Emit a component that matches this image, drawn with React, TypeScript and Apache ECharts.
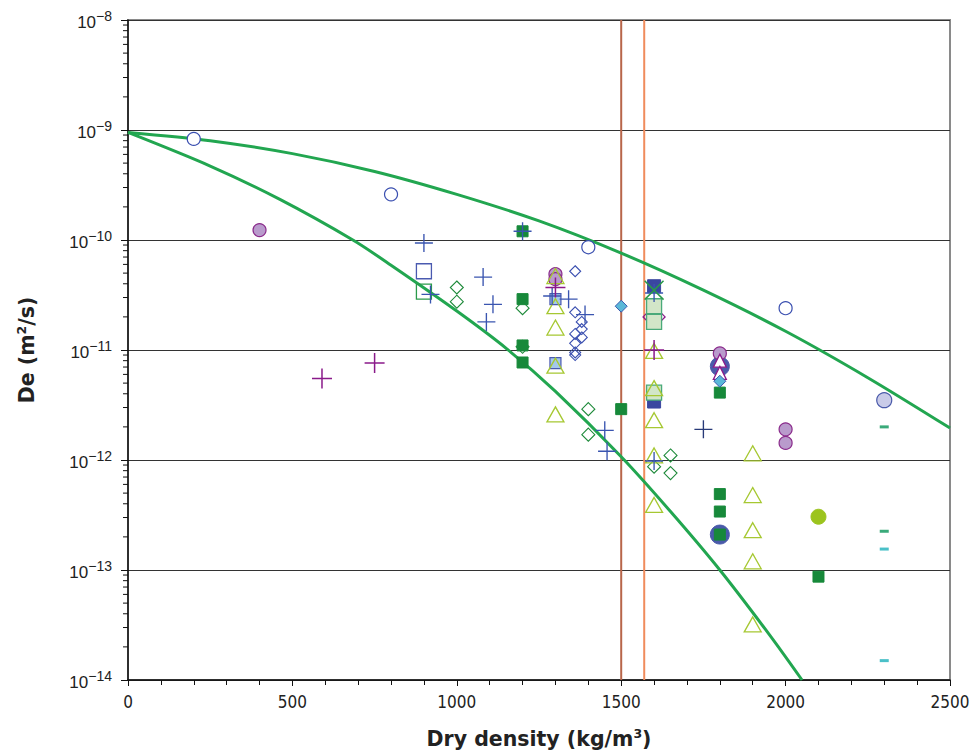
import React, { useEffect, useRef } from "react";
import * as echarts from "echarts";

// ---- data ----
const xTicks = [0, 500, 1000, 1500, 2000, 2500];
const yDecades = [-14, -13, -12, -11, -10, -9];
const minorMultipliers = [2, 3, 4, 5, 6, 7, 8, 9];

const upperCurve = [
  [0, 9.5e-10], [250, 8.0e-10], [500, 6.1e-10], [750, 4.2e-10], [1000, 2.6e-10],
  [1250, 1.49e-10], [1500, 7.6e-11], [1750, 3.5e-11], [2000, 1.48e-11], [2250, 5.6e-12], [2500, 1.95e-12],
];
const lowerCurve = [
  [0, 9.5e-10], [250, 4.7e-10], [462, 2.34e-10], [684, 1.0e-10], [800, 5.9e-11], [1000, 2.26e-11],
  [1153, 1.02e-11], [1300, 4.2e-12], [1500, 1.07e-12], [1650, 3.4e-13], [1800, 1.0e-13], [1950, 2.6e-14], [2050, 1.0e-14],
];
const limitLine1 = [[1500, 1e-14], [1500, 1e-8]];
const limitLine2 = [[1570, 1e-14], [1570, 1e-8]];

const openCircles = [[200, 8.3e-10], [800, 2.6e-10], [1400, 8.6e-11], [2000, 2.4e-11]];
const purpleCircles = [[400, 1.23e-10], [1300, 4.9e-11], [1300, 4.4e-11], [1800, 9.3e-12], [2000, 1.9e-12], [2000, 1.43e-12]];
const bigBlueCircles = [[1800, 7.1e-12], [1800, 2.1e-13]];
const lavenderCircles = [[2300, 3.5e-12]];
const limeCircles = [[2100, 3.05e-13]];
const bluePlus = [
  [900, 9.4e-11], [920, 3.2e-11], [1080, 4.6e-11], [1110, 2.6e-11], [1090, 1.8e-11], [1200, 1.2e-10],
  [1290, 3.1e-11], [1340, 2.9e-11], [1390, 2.1e-11], [1450, 1.86e-12], [1457, 1.2e-12], [1600, 9.8e-13], [1600, 3.3e-11],
];
const navyPlus = [[1750, 1.9e-12]];
const magentaPlus = [[590, 5.5e-12], [750, 7.6e-12], [1300, 3.7e-11], [1600, 1.0e-11]];
const blueOpenSquares = [[900, 5.2e-11]];
const greenOpenSquares = [[900, 3.4e-11]];
const greenDiamonds = [
  [1000, 3.7e-11], [1000, 2.75e-11], [1200, 2.4e-11], [1200, 1.07e-11], [1400, 2.9e-12], [1400, 1.7e-12],
  [1650, 1.1e-12], [1600, 8.7e-13], [1650, 7.6e-13],
];
const blueDiamonds = [
  [1360, 5.2e-11], [1360, 2.2e-11], [1380, 1.8e-11], [1380, 1.55e-11], [1360, 1.4e-11], [1380, 1.3e-11],
  [1360, 1.15e-11], [1360, 9.5e-12], [1360, 9.0e-12],
];
const cyanDiamonds = [[1500, 2.5e-11], [1800, 5.2e-12]];
const magentaDiamonds = [[1600, 2.0e-11]];
const greenSquares = [
  [1200, 1.2e-10], [1200, 2.9e-11], [1200, 1.1e-11], [1200, 7.7e-12], [1500, 2.9e-12], [1800, 4.1e-12],
  [1800, 4.9e-13], [1800, 3.4e-13], [1800, 2.1e-13], [2100, 8.7e-14],
];
const navySquares = [[1600, 3.8e-11], [1600, 3.4e-12]];
const lightBlueSquares = [[1300, 2.9e-11], [1300, 7.6e-12]];
const lightGreenSquares = [[1600, 2.5e-11], [1600, 1.8e-11], [1600, 4.1e-12]];
const greenCrosses = [[1600, 3.5e-11]];
const limeTriangles = [
  [1300, 4.7e-11], [1300, 2.5e-11], [1300, 1.6e-11], [1300, 7.2e-12], [1300, 2.6e-12],
  [1600, 9.8e-12], [1600, 4.5e-12], [1600, 2.3e-12], [1600, 1.1e-12], [1600, 3.9e-13],
  [1900, 1.15e-12], [1900, 4.8e-13], [1900, 2.3e-13], [1900, 1.2e-13], [1900, 3.2e-14],
];
const magentaTriangles = [[1800, 8.0e-12], [1800, 6.2e-12]];
const tealDashes = [[2300, 2.0e-12], [2300, 2.25e-13]];
const cyanDashes = [[2300, 1.55e-13], [2300, 1.5e-14]];

const PLUS = "path://M9.25,0h1.5v9.25h9.25v1.5h-9.25v9.25h-1.5v-9.25h-9.25v-1.5h9.25z";
const CROSS = "path://M0,1.1L1.1,0L10,8.9L18.9,0L20,1.1L11.1,10L20,18.9L18.9,20L10,11.1L1.1,20L0,18.9L8.9,10Z";

const NARROW = "'Liberation Sans Narrow', 'DejaVu Sans Condensed', 'Liberation Sans', Arial, sans-serif";
const SANS = "'Liberation Sans', Arial, sans-serif";
const BOLD_FONT = "'DejaVu Sans', 'Liberation Sans', Arial, sans-serif";

function scatter(name: string, data: number[][], symbol: string, size: any, color: string, border: string, bw: number, z = 3) {
  return {
    name, type: "scatter", data, symbol, symbolSize: size, z,
    itemStyle: { color, borderColor: border, borderWidth: bw, opacity: 1 },
  };
}

const titleStyle = {
  fontFamily: BOLD_FONT, fontWeight: "bold", fontSize: 20.5, color: "#222",
  rich: { sup: { fontFamily: BOLD_FONT, fontWeight: "bold", fontSize: 12.5, color: "#222", verticalAlign: "top", padding: [0, 0, 10, 0] } },
};

export default function App() {
  const ref = useRef<HTMLDivElement>(null);
  useEffect(() => {
    document.body.style.margin = "0";
    const chart = echarts.init(ref.current!, null, { renderer: "svg" });
    const minorTicks: number[][] = [];
    yDecades.forEach((d) => minorMultipliers.forEach((m) => minorTicks.push([0, m * Math.pow(10, d)])));

    chart.setOption({
      animation: false,
      backgroundColor: "#fff",
      grid: { left: 128, top: 20, width: 822, height: 663, show: true, borderColor: "#8a8a8a", borderWidth: 2, backgroundColor: "transparent" },
      xAxis: {
        type: "value", min: 0, max: 2500, interval: 500,
        name: "Dry density (kg/m{sup|3})", nameLocation: "middle", nameGap: 47,
        nameTextStyle: titleStyle,
        axisLine: { lineStyle: { color: "#111", width: 1.5 } },
        axisTick: { show: true, length: 6, inside: false, lineStyle: { color: "#111" } },
        minorTick: { show: true, splitNumber: 5, length: 5, lineStyle: { color: "#111" } },
        splitLine: { show: false },
        axisLabel: { fontFamily: NARROW, fontSize: 17, color: "#222", margin: 13,
          formatter: (v: number) => (xTicks.includes(v) ? String(v) : "") },
      },
      yAxis: {
        type: "log", logBase: 10, min: 1e-14, max: 1e-8,
        name: "De (m{sup|2}/s)", nameLocation: "middle", nameGap: 90, nameRotate: 90,
        nameTextStyle: titleStyle,
        axisLine: { show: true, lineStyle: { color: "#111", width: 1.5 } },
        axisTick: { show: true, length: 7, inside: false, lineStyle: { color: "#111" } },
        splitLine: { show: true, lineStyle: { color: "#333", width: 1 } },
        axisLabel: {
          margin: 16,
          formatter: (v: number) => `{b|10}{s|\u2212${-Math.round(Math.log10(v))}}`,
          rich: {
            b: { fontFamily: SANS, fontSize: 17, color: "#222", lineHeight: 22, padding: [4, 0, 0, 0] },
            s: { fontFamily: SANS, fontSize: 14, color: "#222", verticalAlign: "top", padding: [0, 0, 6, 0], lineHeight: 22 },
          },
        },
      },
      series: [
        {
          type: "custom", name: "minor", data: minorTicks, z: 10, silent: true, clip: false,
          encode: { x: 0, y: 1 },
          renderItem: (_p: any, api: any) => {
            const pt = api.coord([0, api.value(1)]);
            return { type: "line", shape: { x1: pt[0] - 5, y1: pt[1], x2: pt[0], y2: pt[1] }, style: { stroke: "#111", lineWidth: 1 } };
          },
        },
        { type: "line", data: limitLine1, showSymbol: false, lineStyle: { color: "#b8664a", width: 2 }, z: 2, silent: true },
        { type: "line", data: limitLine2, showSymbol: false, lineStyle: { color: "#f08c5c", width: 2 }, z: 2, silent: true },
        { type: "line", data: upperCurve, smooth: 0.3, showSymbol: false, lineStyle: { color: "#22a650", width: 3 }, z: 2, silent: true },
        { type: "line", data: lowerCurve, smooth: 0.3, showSymbol: false, lineStyle: { color: "#22a650", width: 3 }, z: 2, silent: true },
        scatter("openCircles", openCircles, "circle", 13, "#ffffff", "#3a4fb0", 1.2),
        scatter("bigBlueCircles", bigBlueCircles, "circle", 19, "#4a5aaa", "#4a5aaa", 1, 3),
        scatter("purpleCircles", purpleCircles, "circle", 13, "#b99bcc", "#8b2c8c", 1.2, 4),
        scatter("lavenderCircles", lavenderCircles, "circle", 15, "#c9cbe8", "#4a5aaa", 1.2),
        scatter("limeCircles", limeCircles, "circle", 15, "#9cc41e", "#9cc41e", 1),
        scatter("blueOpenSquares", blueOpenSquares, "rect", 15, "transparent", "#4a5ab0", 1.3),
        scatter("greenOpenSquares", greenOpenSquares, "rect", 15, "transparent", "#2a9a4a", 1.3),
        scatter("greenDiamonds", greenDiamonds, "diamond", 13, "transparent", "#1e8a3a", 1.1),
        scatter("blueDiamonds", blueDiamonds, "diamond", 11, "transparent", "#3a4fb0", 1.1),
        scatter("magentaDiamonds", magentaDiamonds, "diamond", 22, "transparent", "#8a1a8a", 1.3),
        scatter("greenSquares", greenSquares, "rect", 11, "#17893a", "#17893a", 1, 5),
        scatter("navySquares", navySquares, "rect", 13, "#3a47a0", "#3a47a0", 1, 4),
        scatter("lightBlueSquares", lightBlueSquares, "rect", 11, "#a4c8ec", "#4a5ab0", 1.2, 5),
        scatter("lightGreenSquares", lightGreenSquares, "rect", 15, "#d2e6c8", "#4aaa7a", 1.3, 6),
        scatter("limeTriangles", limeTriangles, "triangle", [17, 15], "transparent", "#a6c832", 1.3, 6),
        scatter("magentaTriangles", magentaTriangles, "triangle", [13, 13], "#ffffff", "#8a1a8a", 1.3, 6),
        scatter("cyanDiamonds", cyanDiamonds, "diamond", 12, "#5ab8d8", "#3a5ab0", 1, 7),
        scatter("bluePlus", bluePlus, PLUS, 18, "#3a55b0", "#3a55b0", 0, 7),
        scatter("navyPlus", navyPlus, PLUS, 18, "#283a78", "#283a78", 0, 7),
        scatter("magentaPlus", magentaPlus, PLUS, 20, "#8a1a8a", "#8a1a8a", 0, 7),
        scatter("greenCrosses", greenCrosses, CROSS, 20, "#2a9a4a", "#2a9a4a", 0, 7),
        scatter("tealDashes", tealDashes, "rect", [9, 3], "#3aaa7a", "#3aaa7a", 0, 7),
        scatter("cyanDashes", cyanDashes, "rect", [9, 3], "#4ac0c8", "#4ac0c8", 0, 7),
      ],
    });
    return () => chart.dispose();
  }, []);
  return <div ref={ref} style={{ width: 973, height: 754 }} />;
}
